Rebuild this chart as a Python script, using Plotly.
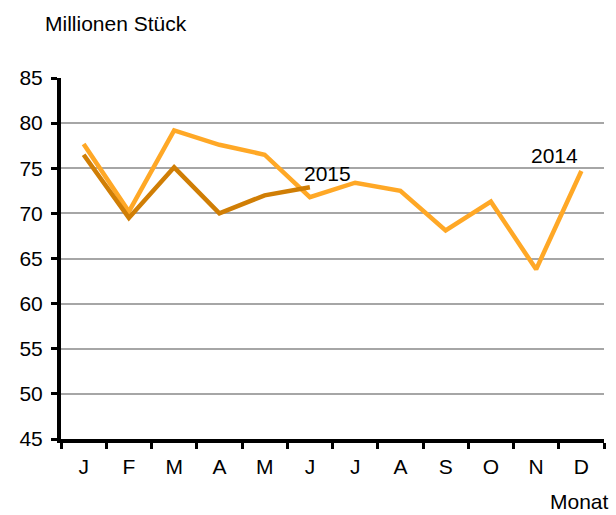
import plotly.graph_objects as go

months = ["J", "F", "M", "A", "M ", "J ", "J  ", "A ", "S", "O", "N", "D"]
tick_labels = ["J", "F", "M", "A", "M", "J", "J", "A", "S", "O", "N", "D"]
values_2014 = [77.7, 70.2, 79.2, 77.6, 76.5, 71.8, 73.4, 72.5, 68.1, 71.3, 63.8, 74.7]
values_2015 = [76.5, 69.5, 75.1, 70.0, 72.0, 72.9]
y_ticks = [45, 50, 55, 60, 65, 70, 75, 80, 85]

FONT = "Liberation Sans, Arial, sans-serif"
FS = 21

fig = go.Figure()
fig.add_trace(go.Scatter(x=months, y=values_2014, mode="lines", name="2014",
                         line=dict(color="#FFA826", width=4.5)))
fig.add_trace(go.Scatter(x=months[:len(values_2015)], y=values_2015, mode="lines", name="2015",
                         line=dict(color="#D07E05", width=4.5)))

fig.add_annotation(x=5.40, y=74.42, xref="x", yref="y", text="2015", showarrow=False,
                   font=dict(family=FONT, size=FS, color="black"))
fig.add_annotation(x=10.41, y=76.4, xref="x", yref="y", text="2014", showarrow=False,
                   font=dict(family=FONT, size=FS, color="black"))
fig.add_annotation(x=-0.033, y=1.152, xref="paper", yref="paper", text="Millionen Stück",
                   showarrow=False, xanchor="left", yanchor="middle",
                   font=dict(family=FONT, size=FS, color="black"))
fig.add_annotation(x=1.012, y=-0.172, xref="paper", yref="paper", text="Monat",
                   showarrow=False, xanchor="right", yanchor="middle",
                   font=dict(family=FONT, size=FS, color="black"))

fig.update_layout(
    width=616, height=515,
    margin=dict(l=61, r=12, t=78, b=76, pad=0),
    paper_bgcolor="white", plot_bgcolor="white",
    showlegend=False,
    font=dict(family=FONT, size=FS, color="black"),
    xaxis=dict(type="category", range=[-0.5, 11.5], tickmode="array",
               tickvals=months, ticktext=tick_labels, tickson="boundaries",
               ticks="outside", ticklen=6, tickwidth=3, tickcolor="black",
               showline=True, linecolor="black", linewidth=4,
               showgrid=False, zeroline=False, ticklabelstandoff=6,
               fixedrange=True),
    yaxis=dict(range=[45, 85], tickvals=y_ticks, ticks="outside", ticklen=6,
               tickwidth=3, tickcolor="black", showline=True, linecolor="black",
               linewidth=4, showgrid=True, gridcolor="#A6A6A6", gridwidth=2,
               zeroline=False, ticklabelstandoff=4, fixedrange=True),
)

fig.write_html("out.html", config={"displayModeBar": False},
               post_script="document.body.style.margin='0';document.body.style.overflow='hidden';")
